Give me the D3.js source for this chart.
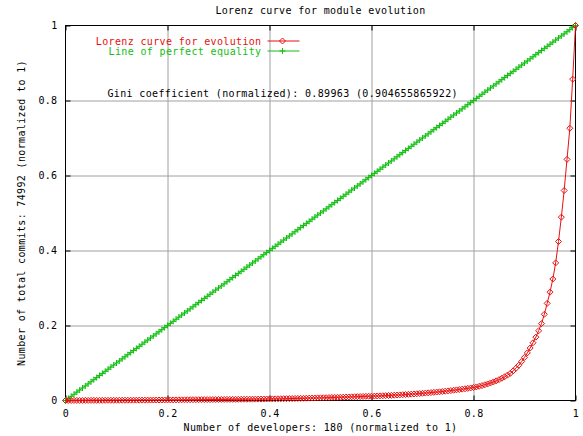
<!DOCTYPE html>
<html lang="en">

<head>
  <meta charset="utf-8">
  <title>Lorenz curve for module evolution</title>
  <script src="https://d3js.org/d3.v7.min.js"></script>
</head>

<body style="margin:0; background:#fff;">
  <div id="chart"></div>

  <style>
    #chart text {
      font-family: "DejaVu Sans Mono", monospace;
      font-size: 10px;
      letter-spacing: 0.35px;
    }
    .grid line { stroke: #a0a0a0; stroke-width: 1; }
    .grid path { display: none; }
    .axis path { display: none; }
    .axis line { stroke: #000; }
  </style>

  <script type="text/javascript">
    "use strict"

    // dados
    var titulo = "Lorenz curve for module evolution";
    var rotuloX = "Number of developers: 180 (normalized to 1)";
    var rotuloY = "Number of total commits: 74992 (normalized to 1)";
    var textoGini = "Gini coefficient (normalized): 0.89963 (0.904655865922)";
    var series = ["Lorenz curve for evolution", "Line of perfect equality"];
    var cores = ["#e81010", "#10c010"];

    var nDesenvolvedores = 180;
    var ticks = [0, 0.2, 0.4, 0.6, 0.8, 1];
    var rotulosTicks = ["0", "0.2", "0.4", "0.6", "0.8", "1"];

    // fracao acumulada de commits (curva de Lorenz), um valor por desenvolvedor
    var lorenz = [
      0, 0.00003, 0.00006, 0.00009, 0.00012, 0.00015, 0.00018, 0.00021, 0.00024, 0.00027,
      0.00031, 0.00035, 0.00039, 0.00043, 0.00047, 0.00051, 0.00055, 0.00059, 0.00063, 0.00067,
      0.00071, 0.00075, 0.00079, 0.00083, 0.00087, 0.00091, 0.00095, 0.00099, 0.00103, 0.00108,
      0.00113, 0.00118, 0.00123, 0.00128, 0.00133, 0.00138, 0.00143, 0.0015, 0.00157, 0.00164,
      0.00171, 0.00178, 0.00185, 0.00192, 0.00199, 0.00206, 0.00213, 0.0022, 0.00227, 0.00234,
      0.00241, 0.00248, 0.00255, 0.00262, 0.00269, 0.00276, 0.00283, 0.0029, 0.00297, 0.00305,
      0.00313, 0.00321, 0.00329, 0.00337, 0.00345, 0.00353, 0.00361, 0.00369, 0.00377, 0.00386,
      0.00395, 0.00404, 0.00413, 0.00425, 0.00438, 0.00451, 0.00465, 0.00479, 0.00494, 0.00509,
      0.00525, 0.00541, 0.00558, 0.00575, 0.00593, 0.00611, 0.0063, 0.00649, 0.00669, 0.00689,
      0.0071, 0.00731, 0.00753, 0.00775, 0.00798, 0.00821, 0.00845, 0.00869, 0.00894, 0.00919,
      0.00945, 0.00971, 0.00998, 0.01025, 0.01053, 0.01081, 0.0111, 0.0113, 0.0115, 0.0118,
      0.0121, 0.0124, 0.0127, 0.0130, 0.0133, 0.0137, 0.0141, 0.0145, 0.0149, 0.0154,
      0.0159, 0.0164, 0.0169, 0.0174, 0.0180, 0.0186, 0.0192, 0.0198, 0.0204, 0.0211,
      0.0218, 0.0225, 0.0232, 0.0240, 0.0248, 0.0256, 0.0265, 0.0274, 0.0283, 0.0293,
      0.0303, 0.0313, 0.0324, 0.0335, 0.0347, 0.0362, 0.0379, 0.0398, 0.0419, 0.0442,
      0.0467, 0.0494, 0.0524, 0.0557, 0.0593, 0.0633, 0.0677, 0.0725, 0.079, 0.086,
      0.094, 0.104, 0.115, 0.127, 0.140, 0.154, 0.169, 0.186, 0.205, 0.230,
      0.259, 0.289, 0.324, 0.367, 0.424, 0.489, 0.560, 0.643, 0.726, 0.857,
      1
    ];

    function desenha() {
      var larguraSVG = 583, alturaSVG = 436;
      var margin = {top: 25.5, right: 7.5, bottom: 35.5, left: 65.5};
      var larguraVis = larguraSVG - margin.left - margin.right,
          alturaVis = alturaSVG - margin.top - margin.bottom;

      var svg = d3.select('#chart')
        .append('svg')
          .attr('width', larguraSVG)
          .attr('height', alturaSVG);

      var grafico = svg.append('g')
          .attr('transform', 'translate(' + margin.left + ',' + margin.top + ')');

      var x = d3.scaleLinear().domain([0, 1]).range([0, larguraVis]);
      var y = d3.scaleLinear().domain([0, 1]).range([alturaVis, 0]);

      var pontos = lorenz.map(function(v, i) {
        return {x: i / nDesenvolvedores, lorenz: v, igual: i / nDesenvolvedores};
      });

      // grade
      var internos = ticks.slice(1, -1);
      grafico.append('g').attr('class', 'grid')
        .call(d3.axisBottom(x).tickValues(internos).tickSize(alturaVis).tickFormat(''));
      grafico.append('g').attr('class', 'grid')
        .call(d3.axisLeft(y).tickValues(internos).tickSize(-larguraVis).tickFormat(''));

      // eixos (ticks para dentro)
      var fmt = function(d) { return rotulosTicks[ticks.indexOf(d)]; };
      var eixoX = grafico.append('g').attr('class', 'axis')
        .attr('transform', 'translate(0,' + alturaVis + ')')
        .call(d3.axisBottom(x).tickValues(ticks).tickSize(-5).tickPadding(9).tickFormat(fmt));
      var eixoY = grafico.append('g').attr('class', 'axis')
        .call(d3.axisLeft(y).tickValues(ticks).tickSize(-5).tickPadding(8).tickFormat(fmt));
      grafico.append('g').attr('class', 'axis')
        .call(d3.axisTop(x).tickValues(ticks).tickSize(-5).tickFormat(''));
      grafico.append('g').attr('class', 'axis')
        .attr('transform', 'translate(' + larguraVis + ',0)')
        .call(d3.axisRight(y).tickValues(ticks).tickSize(-5).tickFormat(''));
      grafico.selectAll('.axis').attr('font-family', null).attr('font-size', null);
      grafico.selectAll('.axis text').attr('fill', '#000');

      // borda
      grafico.append('rect')
        .attr('width', larguraVis).attr('height', alturaVis)
        .attr('fill', 'none').attr('stroke', '#000');

      // linha de igualdade
      var linhaIgual = d3.line().x(function(d) { return x(d.x); }).y(function(d) { return y(d.igual); });
      grafico.append('path').datum(pontos)
        .attr('d', linhaIgual).attr('fill', 'none').attr('stroke', cores[1]);
      grafico.append('g').selectAll('path').data(pontos).enter()
        .append('path')
          .attr('d', function(d) {
            var cx = x(d.x), cy = y(d.igual);
            return 'M' + (cx - 3) + ',' + cy + 'H' + (cx + 3) + 'M' + cx + ',' + (cy - 3) + 'V' + (cy + 3);
          })
          .attr('stroke', cores[1]).attr('fill', 'none');

      // curva de Lorenz
      var linhaLorenz = d3.line().x(function(d) { return x(d.x); }).y(function(d) { return y(d.lorenz); });
      grafico.append('path').datum(pontos)
        .attr('d', linhaLorenz).attr('fill', 'none').attr('stroke', cores[0]);
      grafico.append('g').selectAll('path').data(pontos).enter()
        .append('path')
          .attr('d', function(d) {
            var cx = x(d.x), cy = y(d.lorenz);
            return 'M' + cx + ',' + (cy - 3) + 'L' + (cx + 3) + ',' + cy + 'L' + cx + ',' + (cy + 3) + 'L' + (cx - 3) + ',' + cy + 'Z';
          })
          .attr('stroke', cores[0]).attr('fill', 'none');

      // legenda
      series.forEach(function(nome, i) {
        var ly = 15.5 + i * 10;
        var leg = grafico.append('g').attr('transform', 'translate(0,' + ly + ')');
        leg.append('text').attr('x', 196).attr('y', 3.5)
          .attr('text-anchor', 'end').attr('fill', cores[i]).text(nome);
        leg.append('line').attr('x1', 202).attr('x2', 234).attr('stroke', cores[i]);
        if (i == 0) {
          leg.append('path').attr('d', 'M217,-3L220,0L217,3L214,0Z')
            .attr('stroke', cores[0]).attr('fill', 'none');
        } else {
          leg.append('path').attr('d', 'M214,0H220M217,-3V3')
            .attr('stroke', cores[1]).attr('fill', 'none');
        }
      });

      grafico.append('text').attr('x', 42).attr('y', 71.5).attr('fill', '#000').text(textoGini);

      // titulos
      svg.append('text').attr('x', margin.left + larguraVis / 2).attr('y', 14)
        .attr('text-anchor', 'middle').text(titulo);
      svg.append('text').attr('x', margin.left + larguraVis / 2).attr('y', 431)
        .attr('text-anchor', 'middle').text(rotuloX);
      svg.append('text')
        .attr('transform', 'translate(25,' + (margin.top + alturaVis / 2) + ') rotate(-90)')
        .attr('text-anchor', 'middle').text(rotuloY);
    }

    desenha();
  </script>
</body>

</html>
